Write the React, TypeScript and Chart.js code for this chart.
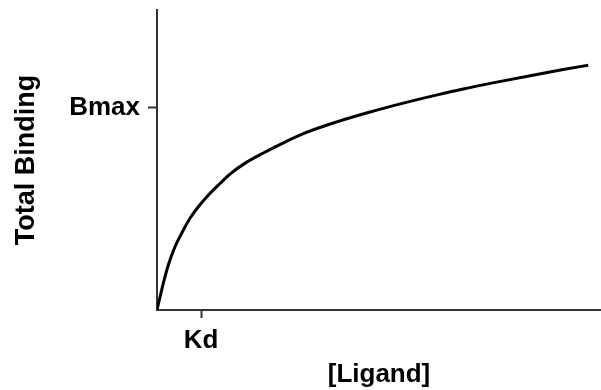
import React, { useEffect, useRef } from "react";
import { Chart, registerables } from "chart.js";

Chart.register(...registerables);

// Ligand concentration (in units of Kd) and total binding (in units of Bmax)
const ligand = [0, 0.143, 0.257, 0.409, 0.561, 0.75, 0.939, 1.166, 1.432, 1.659, 2.039, 2.416, 2.757, 3.325, 4.084, 4.841, 5.598, 6.393, 6.96, 7.72, 8.48, 9.23, 9.8];
const totalBinding = [0, 0.132, 0.223, 0.313, 0.38, 0.454, 0.511, 0.568, 0.626, 0.673, 0.732, 0.777, 0.815, 0.873, 0.931, 0.98, 1.024, 1.066, 1.094, 1.128, 1.16, 1.19, 1.212];

const xTickValues = [1];
const xTickLabels = ["Kd"];
const yTickValues = [1];
const yTickLabels = ["Bmax"];

const xTitle = "[Ligand]";
const yTitle = "Total Binding";

const FONT = "'Liberation Sans', Arial, sans-serif";

export default function App() {
  const ref = useRef<HTMLCanvasElement | null>(null);

  useEffect(() => {
    if (!ref.current) return;
    const points = ligand.map((x, i) => ({ x, y: totalBinding[i] }));
    const chart = new Chart(ref.current, {
      type: "line",
      data: {
        datasets: [
          {
            data: points,
            borderColor: "#000",
            borderWidth: 3,
            pointRadius: 0,
            cubicInterpolationMode: "monotone",
            fill: false,
          },
        ],
      },
      options: {
        responsive: false,
        animation: false,
        layout: { padding: { top: 10, left: 0, right: 0, bottom: 0 } },
        plugins: { legend: { display: false }, tooltip: { enabled: false } },
        scales: {
          x: {
            type: "linear",
            min: 0,
            max: 10.09,
            afterBuildTicks: (axis: any) => {
              axis.ticks = xTickValues.map((v) => ({ value: v }));
            },
            afterFit: (axis: any) => {
              axis.height = 80;
              axis.paddingLeft = 0;
              axis.paddingRight = 0;
            },
            ticks: {
              autoSkip: false,
              padding: 7,
              color: "#000",
              font: { family: FONT, size: 26, weight: "bold" },
              callback: (v: any) => {
                const i = xTickValues.indexOf(Number(v));
                return i >= 0 ? xTickLabels[i] : "";
              },
            },
            grid: {
              display: true,
              drawOnChartArea: false,
              drawTicks: true,
              tickLength: 8,
              tickWidth: 2,
              tickColor: "#333",
            },
            border: { display: true, color: "#333", width: 2 },
            title: {
              display: true,
              text: xTitle,
              color: "#000",
              font: { family: FONT, size: 26, weight: "bold" },
              padding: { top: 0, bottom: 0 },
            },
          },
          y: {
            type: "linear",
            min: 0,
            max: 1.485,
            afterBuildTicks: (axis: any) => {
              axis.ticks = yTickValues.map((v) => ({ value: v }));
            },
            afterFit: (axis: any) => {
              axis.width = 157;
              axis.paddingTop = 0;
              axis.paddingBottom = 0;
            },
            ticks: {
              autoSkip: false,
              padding: 8,
              color: "#000",
              font: { family: FONT, size: 26, weight: "bold" },
              callback: (v: any) => {
                const i = yTickValues.indexOf(Number(v));
                return i >= 0 ? yTickLabels[i] : "";
              },
            },
            grid: {
              display: true,
              drawOnChartArea: false,
              drawTicks: true,
              tickLength: 9,
              tickWidth: 2,
              tickColor: "#333",
            },
            border: { display: true, color: "#333", width: 2 },
            title: {
              display: true,
              text: yTitle,
              color: "#000",
              font: { family: FONT, size: 27, weight: "bold" },
              padding: { top: 10, bottom: 0 },
            },
          },
        },
      },
    });
    return () => chart.destroy();
  }, []);

  return (
    <div style={{ position: "absolute", left: 0, top: 0, width: 601, height: 390, background: "#fff" }}>
      <canvas ref={ref} width={601} height={390} style={{ display: "block" }} />
    </div>
  );
}
